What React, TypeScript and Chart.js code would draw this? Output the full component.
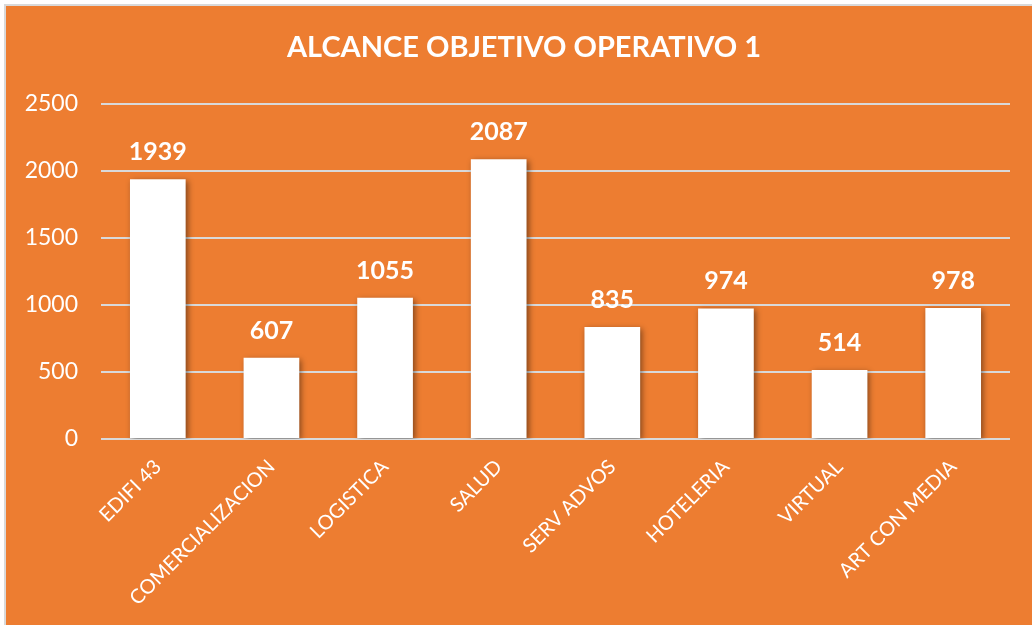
import React, { useEffect, useRef } from "react";
import { Chart, registerables } from "chart.js";

Chart.register(...registerables);

const TITLE = "ALCANCE OBJETIVO OPERATIVO 1";
const categories = ["EDIFI 43", "COMERCIALIZACION", "LOGISTICA", "SALUD", "SERV ADVOS", "HOTELERIA", "VIRTUAL", "ART CON MEDIA"];
const values = [1939, 607, 1055, 2087, 835, 974, 514, 978];
const yTicks = [0, 500, 1000, 1500, 2000, 2500];

const FONT = "Lato, 'Open Sans', sans-serif";
const ORANGE = "#ED7D31";

const shadowPlugin = {
  id: "barShadow",
  beforeDatasetsDraw(chart: any) {
    const ctx = chart.ctx;
    ctx.save();
    ctx.shadowColor = "rgba(0,0,0,0.45)";
    ctx.shadowBlur = 6;
    ctx.shadowOffsetX = 2;
    ctx.shadowOffsetY = 2;
  },
  afterDatasetsDraw(chart: any) {
    chart.ctx.restore();
  },
};

const labelPlugin = {
  id: "labelsAndTitle",
  afterDraw(chart: any) {
    const ctx = chart.ctx;
    ctx.save();
    const meta = chart.getDatasetMeta(0);
    ctx.fillStyle = "#ffffff";
    ctx.textAlign = "center";
    ctx.textBaseline = "alphabetic";
    ctx.font = `bold 25px ${FONT}`;
    meta.data.forEach((bar: any, i: number) => {
      ctx.fillText(String(values[i]), bar.x, bar.y - 19);
    });
    ctx.font = `bold 29px ${FONT}`;
    ctx.textBaseline = "middle";
    ctx.fillText(TITLE, 524, 48);
    ctx.restore();
  },
};

export default function App() {
  const ref = useRef<HTMLCanvasElement | null>(null);
  useEffect(() => {
    if (!ref.current) return;
    const chart = new Chart(ref.current, {
      type: "bar",
      data: {
        labels: categories,
        datasets: [
          {
            data: values,
            backgroundColor: "#ffffff",
            borderWidth: 0,
            categoryPercentage: 1,
            barPercentage: 0.49,
          },
        ],
      },
      options: {
        animation: false,
        responsive: false,
        maintainAspectRatio: false,
        layout: { padding: { left: 0, right: 22, top: 104, bottom: 0 } },
        plugins: {
          legend: { display: false },
          title: { display: false },
          tooltip: { enabled: false },
        },
        scales: {
          x: {
            grid: { display: false, drawTicks: false },
            border: { display: false },
            ticks: {
              color: "#ffffff",
              font: { family: FONT, size: 20 },
              maxRotation: 45,
              minRotation: 45,
              autoSkip: false,
              padding: 16,
            },
            afterFit: (scale: any) => {
              scale.height = 186;
            },
          },
          y: {
            min: 0,
            max: 2500,
            afterBuildTicks: (scale: any) => {
              scale.ticks = yTicks.map((v) => ({ value: v }));
            },
            grid: { color: "#d9d9d9", lineWidth: 2, drawTicks: false },
            border: { display: false },
            ticks: {
              color: "#ffffff",
              font: { family: FONT, size: 23 },
              padding: 23,
              callback: (v: any) => String(v),
            },
            afterFit: (scale: any) => {
              scale.width = 101;
            },
          },
        },
      },
      plugins: [shadowPlugin, labelPlugin],
    });
    return () => chart.destroy();
  }, []);

  return (
    <div style={{ position: "fixed", left: 0, top: 0, width: 1032, height: 625, background: "#ffffff", overflow: "hidden" }}>
      <div
        style={{
          position: "absolute",
          left: 4,
          top: 4,
          width: 1040,
          height: 640,
          background: ORANGE,
          border: "2px solid #d9d9d9",
        }}
      />
      <canvas ref={ref} width={1032} height={625} style={{ position: "absolute", left: 0, top: 0 }} />
    </div>
  );
}
